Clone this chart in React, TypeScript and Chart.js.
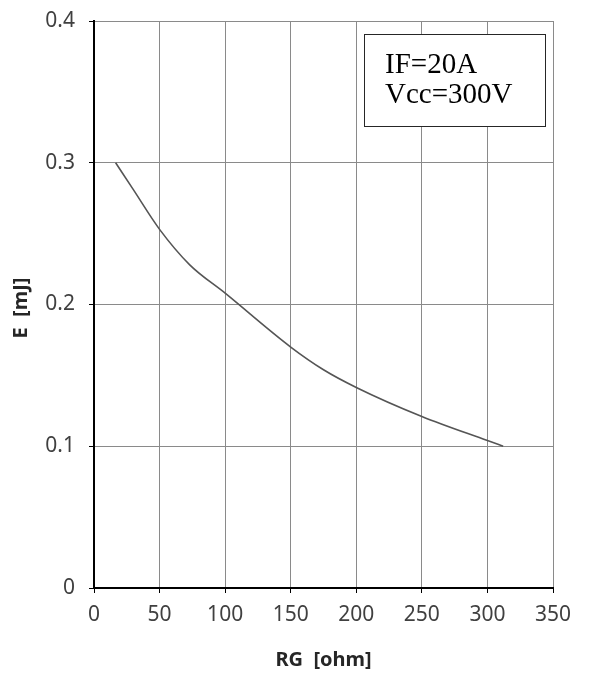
import React, { useEffect, useRef } from "react";
import { Chart, registerables } from "chart.js";

Chart.register(...registerables);

// Switching energy vs. gate resistance
const rgOhm = [16.5, 30, 50, 73, 100, 150, 175, 200, 250, 300, 312];
const energyMJ = [0.3, 0.281, 0.253, 0.228, 0.208, 0.17, 0.154, 0.1415, 0.121, 0.104, 0.1];

const xTitle = "RG  [ohm]";
const yTitle = "E  [mJ]";
const noteLines = ["IF=20A", "Vcc=300V"];

const W = 589;
const H = 675;

const annotations = {
  id: "annotations",
  afterDraw(chart: any) {
    const { ctx, chartArea } = chart;
    ctx.save();
    // axis titles
    ctx.fillStyle = "#262626";
    ctx.font = "bold 20px 'Noto Sans', sans-serif";
    ctx.textAlign = "center";
    ctx.textBaseline = "middle";
    ctx.fillText(xTitle, (chartArea.left + chartArea.right) / 2, 660);
    ctx.translate(21, 308);
    ctx.rotate(-Math.PI / 2);
    ctx.fillText(yTitle, 0, 0);
    ctx.restore();

    // condition note box
    ctx.save();
    const bx = 364, by = 34, bw = 181, bh = 92;
    ctx.fillStyle = "#ffffff";
    ctx.fillRect(bx, by, bw, bh);
    ctx.strokeStyle = "#262626";
    ctx.lineWidth = 1;
    ctx.strokeRect(bx + 0.5, by + 0.5, bw, bh);
    ctx.fillStyle = "#000000";
    ctx.font = "29px 'Liberation Serif', serif";
    ctx.textAlign = "left";
    ctx.textBaseline = "alphabetic";
    ctx.fillText(noteLines[0], 385, 73);
    ctx.fillText(noteLines[1], 385, 103);
    ctx.restore();
  },
};

export default function App() {
  const ref = useRef<HTMLCanvasElement>(null);

  useEffect(() => {
    if (!ref.current) return;
    const chart = new Chart(ref.current, {
      type: "scatter",
      data: {
        datasets: [
          {
            data: rgOhm.map((x, i) => ({ x, y: energyMJ[i] })),
            showLine: true,
            borderColor: "#555555",
            borderWidth: 1.6,
            pointRadius: 0,
            tension: 0.25,
            cubicInterpolationMode: "monotone",
          },
        ],
      },
      options: {
        responsive: false,
        animation: false,
        layout: { padding: { top: 21, right: 36, bottom: 0, left: 0 } },
        plugins: { legend: { display: false }, tooltip: { enabled: false } },
        scales: {
          x: {
            type: "linear",
            min: 0,
            max: 350,
            ticks: {
              stepSize: 50,
              color: "#404040",
              font: { family: "'Noto Sans', sans-serif", size: 21 },
              padding: 9,
              maxRotation: 0,
            },
            grid: { color: "#8a8a8a", lineWidth: 1, tickLength: 5, tickColor: "#000" },
            border: { color: "#000", width: 2 },
            afterFit: (s: any) => {
              s.height = 87;
              s.paddingLeft = 0;
              s.paddingRight = 0;
            },
          },
          y: {
            type: "linear",
            min: 0,
            max: 0.4,
            ticks: {
              stepSize: 0.1,
              color: "#404040",
              font: { family: "'Noto Sans', sans-serif", size: 21 },
              padding: 14,
              callback: (v: any) => String(Math.round(Number(v) * 10) / 10),
            },
            grid: { color: "#8a8a8a", lineWidth: 1, tickLength: 5, tickColor: "#000" },
            border: { color: "#000", width: 2 },
            afterFit: (s: any) => {
              s.width = 94;
              s.paddingTop = 0;
              s.paddingBottom = 0;
            },
          },
        },
      },
      plugins: [annotations],
    });
    return () => chart.destroy();
  }, []);

  return (
    <div style={{ position: "absolute", left: 0, top: 0, width: W, height: H, background: "#fff" }}>
      <canvas ref={ref} width={W} height={H} style={{ width: W, height: H }} />
    </div>
  );
}
